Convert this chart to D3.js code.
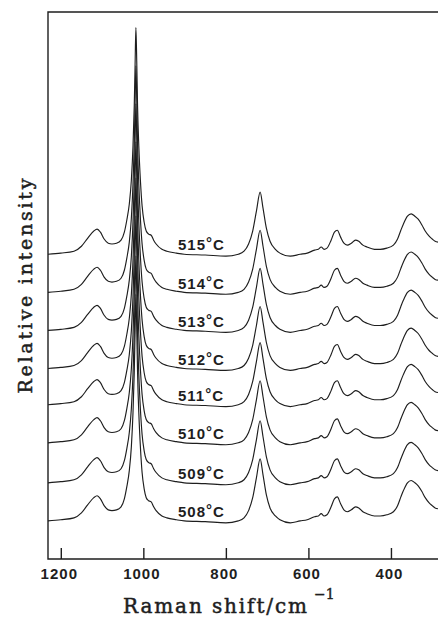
<!DOCTYPE html>
<html>
<head>
<meta charset="utf-8">
<script src="https://cdn.jsdelivr.net/npm/d3@7"></script>
<style>
  html, body { margin: 0; padding: 0; background: #fff; }
  svg { display: block; }
</style>
</head>
<body>
<svg id="chart" width="438" height="619"></svg>
<script>
// ---- data ----
// Raman shift (cm^-1) of the sampled points of a spectrum
const wavenumbers = [1231,1200,1168,1150,1135,1120,1112,1104,1095,1085,1076,1065,1054,1046,1040,1034,1029,1025,1022,1020,1018,1016,1014,1011,1007,1003,998,993,987,981,975,969,955,943,920,901,850,800,770,756,745,735,726,717,710,702,693,680,669,644,620,603,585,576,569,562,555,545,537,530,522,514,506,496,486,478,468,458,440,426,410,394,384,376,370,360,351,342,334,325,317,308,300,293,286];
// relative intensity of the spectrum (same shape for every temperature)
const intensity = [5,8,13,26,47,66,71,63,45,34,32,34,42,63,95,137,200,290,395,500,600,513,395,290,197,132,89,66,58,55,42,32,18,13,8,5,3,0,5,13,32,66,118,168,126,74,39,18,8,0,5,8,16,18,24,18,21,42,63,68,50,34,29,34,42,39,29,24,18,18,21,29,45,68,84,105,111,105,97,82,66,53,45,39,37];
// temperatures and vertical offsets of the stacked spectra
const temperatures = ["508", "509", "510", "511", "512", "513", "514", "515"];
const offsets = [0, 100, 205, 305, 400, 500, 600, 700];
// axis ticks
const xTicks = [1200, 1000, 800, 600, 400];

// ---- layout ----
const svg = d3.select("#chart");
const mLeft = 48, mRight = 438, mTop = 12, mBottom = 559;
const ink = "#1e1e1e";

const x = d3.scaleLinear().domain([1231, 286]).range([mLeft, mRight]);
const y = d3.scaleLinear().domain([-95, 1341]).range([mBottom, mTop]);

const line = d3.line()
  .x(d => x(d[0]))
  .y(d => y(d[1]))
  .curve(d3.curveMonotoneX);

// spectra
temperatures.forEach((t, i) => {
  const pts = wavenumbers.map((w, j) => [w, intensity[j] + offsets[i]]);
  svg.append("path")
    .attr("d", line(pts))
    .attr("fill", "none")
    .attr("stroke", ink)
    .attr("stroke-width", 1.15)
    .attr("stroke-linejoin", "round");
});

// temperature labels
temperatures.forEach((t, i) => {
  const g = svg.append("text")
    .attr("x", x(916))
    .attr("y", y(offsets[i] + 15))
    .attr("font-family", "Liberation Sans, Arial, sans-serif")
    .attr("font-weight", "bold")
    .attr("font-size", 15)
    .attr("letter-spacing", 1)
    .attr("fill", ink);
  g.append("tspan").text(t);
  g.append("tspan").attr("dy", -2).attr("font-size", 15).text("°");
  g.append("tspan").attr("dy", 2).text("C");
});

// frame
svg.append("path")
  .attr("d", `M${mRight},${mTop}H${mLeft}V${mBottom}H${mRight}`)
  .attr("fill", "none")
  .attr("stroke", ink)
  .attr("stroke-width", 1.4);

// x axis ticks (inward) and labels
const xAxis = d3.axisBottom(x)
  .tickValues(xTicks)
  .tickFormat(d3.format("d"))
  .tickSizeInner(-11)
  .tickSizeOuter(0);
const ax = svg.append("g").attr("transform", `translate(0,${mBottom})`).call(xAxis);
ax.select(".domain").remove();
ax.selectAll(".tick line").attr("stroke", ink).attr("stroke-width", 1.4);
ax.selectAll(".tick text")
  .attr("font-family", "Liberation Sans, Arial, sans-serif")
  .attr("font-weight", "bold")
  .attr("font-size", 15)
  .attr("letter-spacing", 1)
  .attr("fill", ink)
  .attr("dy", "0.72em")
  .attr("dx", -2)
  .attr("y", 9);

// x axis title
svg.append("text")
  .attr("x", 123)
  .attr("y", 613)
  .attr("font-family", "DejaVu Serif, Liberation Serif, serif")
  .attr("font-size", 20)
  .attr("textLength", 184)
  .attr("lengthAdjust", "spacing")
  .attr("fill", ink)
  .attr("stroke", ink)
  .attr("stroke-width", 0.5)
  .text("Raman shift/cm");
svg.append("text")
  .attr("x", 314)
  .attr("y", 599)
  .attr("font-family", "DejaVu Serif, Liberation Serif, serif")
  .attr("font-size", 14)
  .attr("fill", ink)
  .attr("stroke", ink)
  .attr("stroke-width", 0.4)
  .text("−1");

// y axis title
svg.append("text")
  .attr("transform", "translate(32,286) rotate(-90)")
  .attr("text-anchor", "middle")
  .attr("font-family", "DejaVu Serif, Liberation Serif, serif")
  .attr("font-size", 19)
  .attr("textLength", 215)
  .attr("lengthAdjust", "spacing")
  .attr("fill", ink)
  .attr("stroke", ink)
  .attr("stroke-width", 0.5)
  .text("Relative intensity");
</script>
</body>
</html>
